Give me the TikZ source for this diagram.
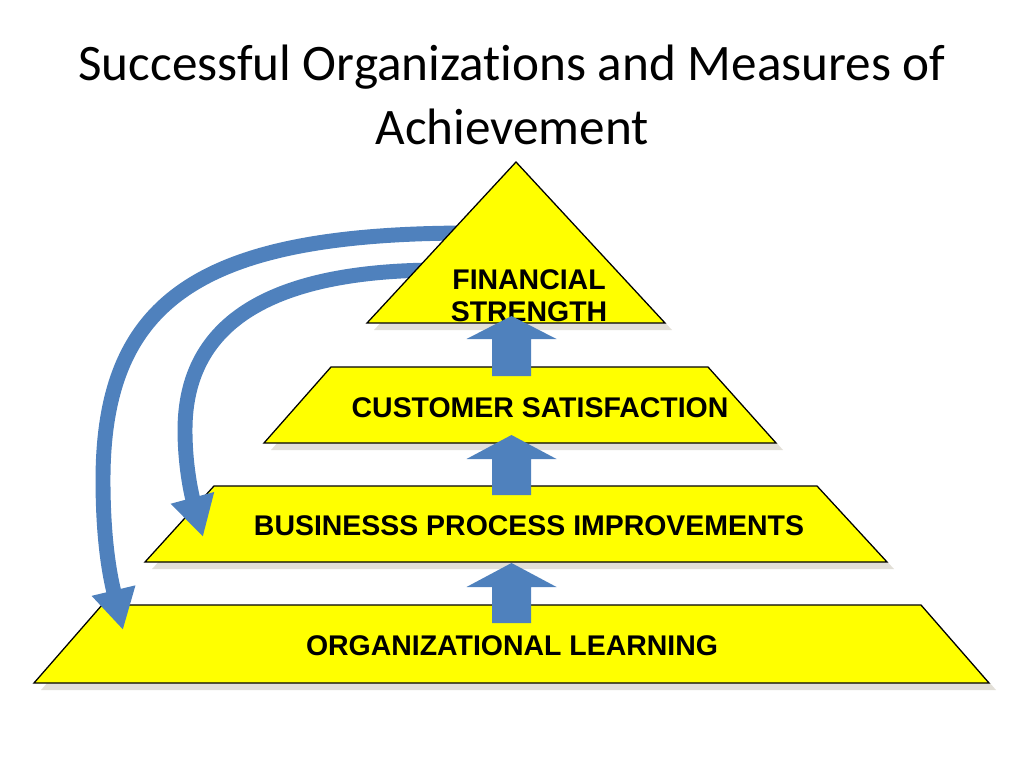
\documentclass[tikz,border=0pt]{standalone}
\usepackage{fontspec}
\setmainfont{Liberation Sans}
\newfontfamily\titlefont[Ligatures=NoCommon]{Carlito}
\usetikzlibrary{arrows.meta}

\definecolor{pyryellow}{RGB}{255,255,0}
\definecolor{arrowblue}{RGB}{79,129,189}
\definecolor{shadowgray}{RGB}{226,223,215}

\tikzset{
  level/.style={fill=pyryellow, draw=black, line width=0.9pt},
  levelshadow/.style={fill=shadowgray},
  levellabel/.style={font=\fontsize{20}{24}\selectfont\bfseries, anchor=base, inner sep=0pt},
  titletext/.style={font=\titlefont\fontsize{36}{43}\selectfont, anchor=base, inner sep=0pt},
  loopback/.style={draw=arrowblue, line width=10.5pt, -{Triangle[width=29.5pt,length=28.5pt]}},
  liftfill/.style={fill=arrowblue},
}

% block arrow: centre x, shaft bottom, head base, tip
\newcommand{\liftarrow}[4]{%
  \fill[liftfill] (#1-19.5,#2) -- (#1+19.5,#2) -- (#1+19.5,#3) -- (#1+45,#3)
    -- (#1,#4) -- (#1-45,#3) -- (#1-19.5,#3) -- cycle;}

\begin{document}
\begin{tikzpicture}[x=0.703125pt,y=-0.703125pt]
  \useasboundingbox (0,0) rectangle (1024,768);

  % Title
  \node [titletext] (title1) at (512,81) {Successful Organizations and Measures of};
  \node [titletext] (title2) at (512,145) {Achievement};

  % Levels, bottom first
  \fill [levelshadow] (109,612) -- (928,612) -- (996,690) -- (41,690) -- cycle;
  \draw [level] (102,605) -- (921,605) -- (989,683) -- (34,683) -- cycle;
  \fill [levelshadow] (221,493) -- (824,493) -- (894,569) -- (152,569) -- cycle;
  \draw [level] (214,486) -- (817,486) -- (887,562) -- (145,562) -- cycle;
  \fill [levelshadow] (338,374) -- (715,374) -- (783,450) -- (271,450) -- cycle;
  \draw [level] (331,367) -- (708,367) -- (776,443) -- (264,443) -- cycle;

  % Feedback loops
  \coordinate (outerStart) at (470,233);
  \coordinate (outerEnd) at (123,630);
  \coordinate (innerStart) at (440,270);
  \coordinate (innerEnd) at (203,537);
  \draw [loopback] (outerStart) .. controls (200,233) and (103,300) .. (103,480)
    .. controls (103,545) and (111,580) .. (outerEnd);
  \draw [loopback] (innerStart) .. controls (275,270) and (185,320) .. (185,430)
    .. controls (185,470) and (193,500) .. (innerEnd);

  % Top
  \fill [levelshadow] (523,169) -- (672,330) -- (374,330) -- cycle;
  \draw [level] (516,162) -- (665,323) -- (367,323) -- cycle;

  % Labels
  \node [levellabel] (finance1) at (529,289) {FINANCIAL};
  \node [levellabel] (finance2) at (529,322) {STRENGTH};
  \node [levellabel] (customer) at (540,417) {CUSTOMER SATISFACTION};
  \node [levellabel] (process) at (529,535) {BUSINESSS PROCESS IMPROVEMENTS};
  \node [levellabel] (learning) at (512,655) {ORGANIZATIONAL LEARNING};

  % Upward arrows
  \liftarrow{511.5}{376}{339}{316}
  \liftarrow{511.5}{495}{459}{435}
  \liftarrow{511.5}{623}{587}{563}
\end{tikzpicture}
\end{document}
